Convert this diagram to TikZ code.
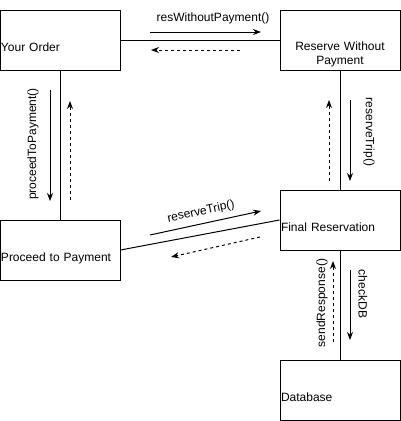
\documentclass[tikz,border=0pt]{standalone}
\usepackage{fontspec}
\setmainfont{Liberation Sans}
\usetikzlibrary{arrows.meta,positioning}

\tikzset{
	objbox/.style={draw,line width=1pt,minimum width=120pt,minimum height=60pt,inner xsep=1pt,text width=118pt,align=left,text height=22pt,text depth=0pt},
	msg/.style={-{Stealth[length=8pt,width=6pt]},line width=1pt},
	reply/.style={msg,dash pattern=on 3pt off 3pt},
	msglabel/.style={inner sep=0pt}
}

\begin{document}
\begin{tikzpicture}[x=1pt,y=-1pt,font=\fontsize{12}{14}\selectfont]
	\useasboundingbox (0,0) rectangle (401,421);
	% objects
	\node[objbox] (order) at (60,40) {Your Order};
	\node[objbox,align=center,text height=35pt] (reserve) at (340,40) {\begin{tabular}{@{}c@{}}Reserve Without\\Payment\end{tabular}};
	\node[objbox] (payment) at (60,250) {Proceed to Payment};
	\node[objbox] (final) at (340,220) {Final Reservation};
	\node[objbox] (db) at (340,390) {Database};
	% links
	\draw[line width=1pt] (order) -- (reserve);
	\draw[line width=1pt] (order) -- (payment);
	\draw[line width=1pt] (reserve) -- (final);
	\draw[line width=1pt] (payment.east) -- (final.west);
	\draw[line width=1pt] (final) -- (db);
	% message end points
	\coordinate (m1a) at (150,32);   \coordinate (m1b) at (261,32);
	\coordinate (r1a) at (240,50);   \coordinate (r1b) at (151,50);
	\coordinate (m2a) at (50,90);    \coordinate (m2b) at (50,201);
	\coordinate (r2a) at (70,200);   \coordinate (r2b) at (70,101);
	\coordinate (m3a) at (350,100);  \coordinate (m3b) at (350,181);
	\coordinate (r3a) at (329,181);  \coordinate (r3b) at (329,100);
	\coordinate (m4a) at (150,235);  \coordinate (m4b) at (261,211);
	\coordinate (r4a) at (260,237);  \coordinate (r4b) at (171,257);
	\coordinate (m5a) at (350,270);  \coordinate (m5b) at (350,340);
	\coordinate (r5a) at (333,342);  \coordinate (r5b) at (333,261);
	% messages
	\draw[msg] (m1a) -- (m1b);
	\draw[reply] (r1a) -- (r1b);
	\draw[msg] (m2a) -- (m2b);
	\draw[reply] (r2a) -- (r2b);
	\draw[msg] (m3a) -- (m3b);
	\draw[reply] (r3a) -- (r3b);
	\draw[msg] (m4a) -- (m4b);
	\draw[reply] (r4a) -- (r4b);
	\draw[msg] (m5a) -- (m5b);
	\draw[reply] (r5a) -- (r5b);
	% labels
	\node[msglabel] (l1) at (213,18) {resWithoutPayment()};
	\node[msglabel,rotate=90] (l2) at (33,144) {proceedToPayment()};
	\node[msglabel,rotate=-90] (l3) at (369,132) {reserveTrip()};
	\node[msglabel,rotate=12] (l4) at (201,212) {reserveTrip()};
	\node[msglabel,rotate=-90] (l5) at (363,294) {checkDB};
	\node[msglabel,rotate=90] (l6) at (322,303) {sendResponse()};
\end{tikzpicture}
\end{document}
